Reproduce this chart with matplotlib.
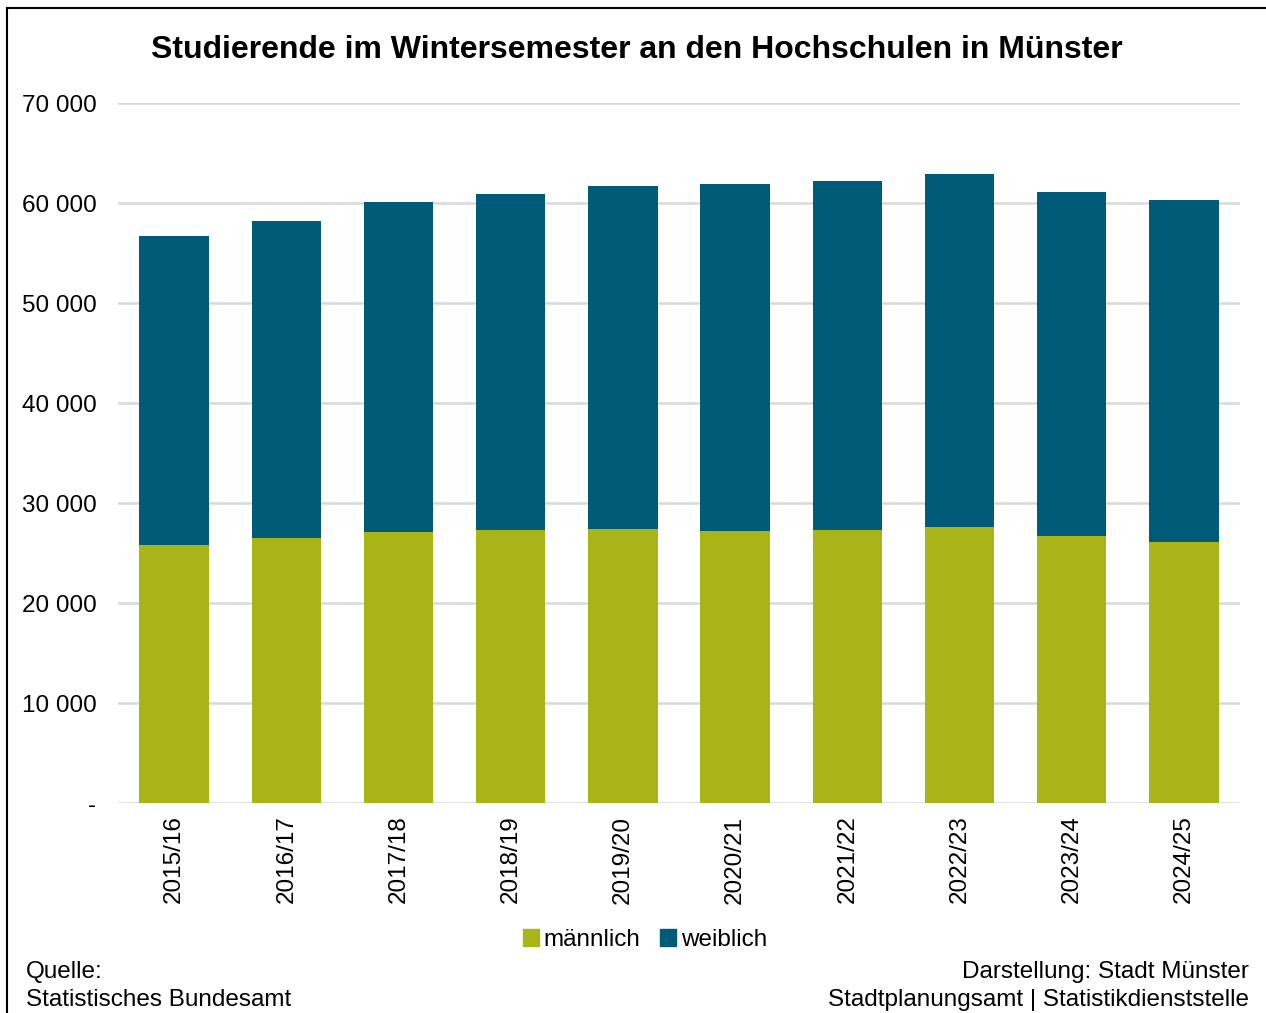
import matplotlib
matplotlib.use("Agg")
import matplotlib.pyplot as plt
from matplotlib.ticker import FuncFormatter
from matplotlib.lines import Line2D
from matplotlib.patches import Patch

plt.rcParams['font.family'] = ['Liberation Sans', 'DejaVu Sans']

semester = ["2015/16", "2016/17", "2017/18", "2018/19", "2019/20",
            "2020/21", "2021/22", "2022/23", "2023/24", "2024/25"]
maennlich = [25800, 26500, 27130, 27300, 27370, 27170, 27270, 27600, 26700, 26100]
weiblich = [30900, 31700, 32940, 33600, 34330, 34700, 34930, 35330, 34430, 34170]

c_m = "#a9b418"
c_w = "#005b78"

FS = 17.5

W, H = 1266, 1013
fig = plt.figure(figsize=(W / 100, H / 100), dpi=100)
ax = fig.add_axes([118 / W, 1 - 803 / H, (1240 - 118) / W, (803 - 103) / H])

x = range(len(semester))
ax.bar(x, maennlich, width=0.62, color=c_m, zorder=3, label="männlich")
ax.bar(x, weiblich, width=0.62, bottom=maennlich, color=c_w, zorder=3, label="weiblich")

ax.set_xlim(-0.5, len(semester) - 0.5)
ax.set_ylim(0, 70000)
ax.set_yticks(range(0, 70001, 10000))


def fmt(v, pos):
    if v == 0:
        return "-"
    return f"{int(v):,}".replace(",", " ")


ax.yaxis.set_major_formatter(FuncFormatter(fmt))
ax.grid(axis="y", color="#d9d9d9", linewidth=1.8, zorder=0)
for s in ax.spines.values():
    s.set_visible(False)
ax.tick_params(axis="both", length=0, labelsize=FS)
ax.tick_params(axis="y", pad=15.5)
ax.tick_params(axis="x", pad=9)
ax.set_xticks(list(x))
ax.set_xticklabels(semester, rotation=90)

fig.text(637 / W, 1 - 50 / H, "Studierende im Wintersemester an den Hochschulen in Münster",
         ha="center", va="center", fontsize=23, fontweight="bold")

handles = [Patch(color=c_m, label="männlich"), Patch(color=c_w, label="weiblich")]
fig.legend(handles=handles, loc="center", bbox_to_anchor=(645 / W, 1 - 940 / H), ncol=2,
           frameon=False, fontsize=FS, handlelength=0.65, handleheight=0.65,
           handletextpad=0.2, columnspacing=0.8)

fig.text(26 / W, 1 - 972 / H, "Quelle:", ha="left", va="center", fontsize=FS)
fig.text(26 / W, 1 - 1000 / H, "Statistisches Bundesamt", ha="left", va="center", fontsize=FS)
fig.text(1249 / W, 1 - 972 / H, "Darstellung: Stadt Münster", ha="right", va="center", fontsize=FS)
fig.text(1249 / W, 1 - 1000 / H, "Stadtplanungsamt | Statistikdienststelle", ha="right",
         va="center", fontsize=FS)

fig.add_artist(Line2D([7 / W, 7 / W], [0, 1 - 8 / H], transform=fig.transFigure,
                      color="black", linewidth=1.5))
fig.add_artist(Line2D([7 / W, 1], [1 - 8 / H, 1 - 8 / H], transform=fig.transFigure,
                      color="black", linewidth=1.5))

fig.savefig("out.png", dpi=100)
